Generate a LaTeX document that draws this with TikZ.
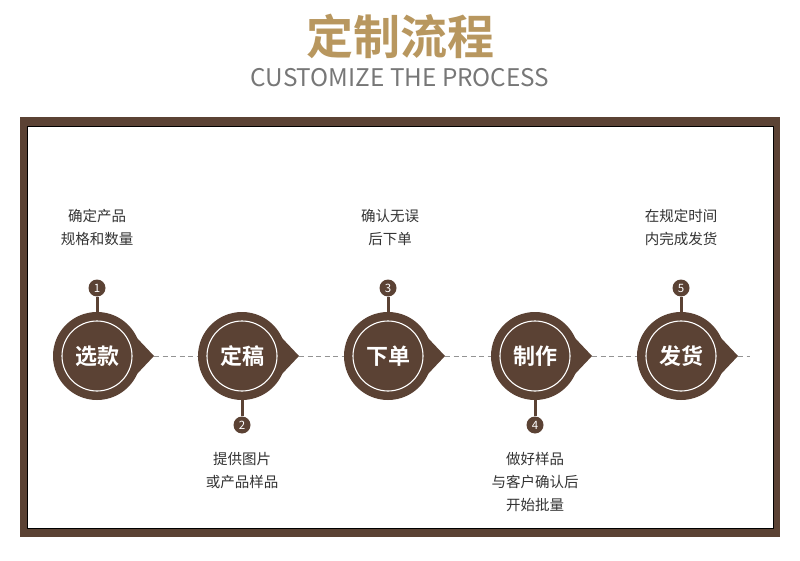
\documentclass[tikz,border=0pt]{standalone}
\usepackage{fontspec}
\newfontfamily\cjk{Noto Sans CJK SC}
\newfontfamily\cjkb{Noto Sans CJK SC Bold}
\definecolor{brn}{HTML}{5B4234}
\definecolor{gold}{HTML}{B8975F}
\definecolor{gtxt}{HTML}{777777}
\definecolor{dtxt}{HTML}{333333}
\begin{document}
\begin{tikzpicture}[x=1pt,y=-1pt,
  stepcircle/.style={circle,fill=brn,minimum size=88pt,inner sep=0pt,font=\cjkb\fontsize{22}{22}\selectfont,text=white},
  badge/.style={circle,fill=brn,minimum size=17pt,inner sep=0pt,font=\cjk\fontsize{11.5}{11.5}\selectfont,text=white},
  desc/.style={align=center,font=\cjk\fontsize{14.5}{23}\selectfont,text=dtxt},
  stem/.style={draw=brn,line width=3pt},
  link/.style={draw=gray!85,dash pattern=on 5pt off 3.5pt,line width=0.8pt}]
\useasboundingbox (0,0) rectangle (800,561);
\fill[white] (0,0) rectangle (800,561);
% frame
\fill[brn] (20,117) rectangle (780,537);
\fill[white] (27,126) rectangle (773,528);
\draw[black,line width=0.8pt] (27,126) rectangle (773,528);
% title
\node[font=\cjkb\fontsize{47}{47}\selectfont,text=gold] (title) at (400,36) {定制流程};
\node[font=\cjk\fontsize{24.3}{24.3}\selectfont,text=gtxt] (subtitle) at (400,78) {CUSTOMIZE THE PROCESS};
% steps
\foreach \i/\x/\t in {1/97/选款,2/242/定稿,3/388/下单,4/535/制作,5/681/发货}{
  \fill[brn] (\x+39.5,356-18.5) -- (\x+57,356) -- (\x+39.5,356+18.5) -- cycle;
  \node[stepcircle] (c\i) at (\x,356) {\t};
  \draw[white,line width=1.1pt] (c\i.center) circle (35pt);
  \coordinate (t\i) at (\x+57,356);
}
\node[badge] (b1) at (97,288) {1};
\node[badge] (b2) at (242,425) {2};
\node[badge] (b3) at (388,288) {3};
\node[badge] (b4) at (535,425) {4};
\node[badge] (b5) at (681,288) {5};
\foreach \i in {1,...,5}{
  \draw[stem] (b\i) -- (c\i);
}
\foreach \i/\j in {1/2,2/3,3/4,4/5}{
  \draw[link] (t\i) -- (c\j.west);
}
\coordinate (e5) at (750,356);
\draw[link] (t5) -- (e5);
% descriptions
\node[desc] (d1) at (97,227) {确定产品\\规格和数量};
\node[desc] (d3) at (390,227) {确认无误\\后下单};
\node[desc] (d5) at (681,227) {在规定时间\\内完成发货};
\node[desc] (d2) at (242,471) {提供图片\\或产品样品};
\node[desc] (d4) at (535,482) {做好样品\\与客户确认后\\开始批量};
\end{tikzpicture}
\end{document}
